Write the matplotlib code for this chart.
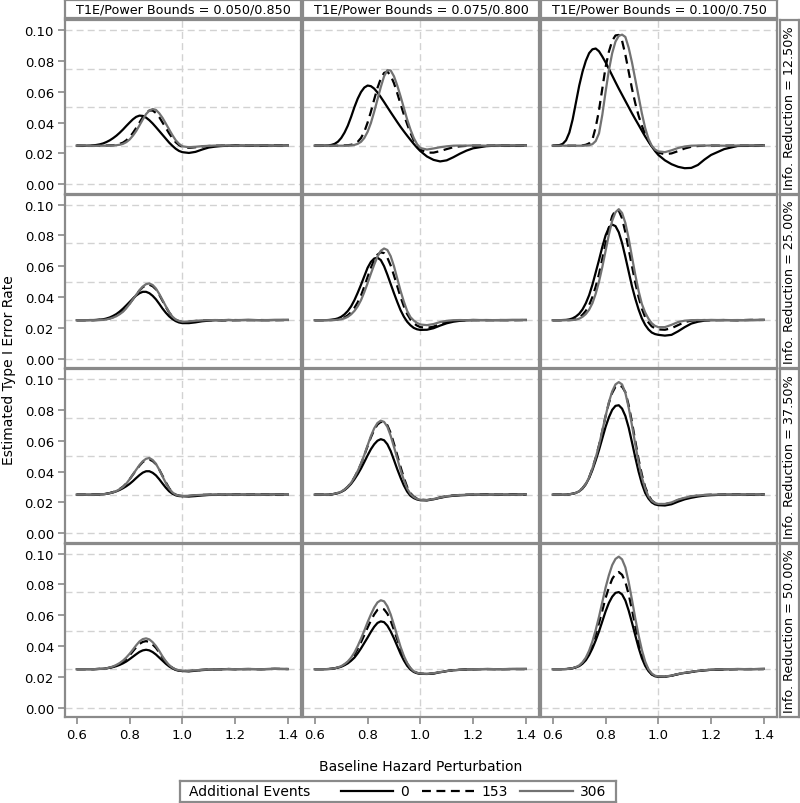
import matplotlib.pyplot as plt
from matplotlib.lines import Line2D

# x values (baseline hazard perturbation), finer where the curves bend
perturbation = [0.600, 0.625, 0.6375, 0.650, 0.6625, 0.675, 0.6875, 0.700, 0.7125, 0.725,
                0.7375, 0.750, 0.7625, 0.775, 0.7875, 0.800, 0.8125, 0.825, 0.8375, 0.850,
                0.8625, 0.875, 0.8875, 0.900, 0.9125, 0.925, 0.9375, 0.950, 0.9625, 0.975,
                0.9875, 1.000, 1.025, 1.050, 1.075, 1.100, 1.125, 1.150, 1.175, 1.200,
                1.250, 1.300, 1.350, 1.400]

bound_labels = ["T1E/Power Bounds = 0.050/0.850",
                "T1E/Power Bounds = 0.075/0.800",
                "T1E/Power Bounds = 0.100/0.750"]
reduction_labels = ["Info. Reduction = 12.50%", "Info. Reduction = 25.00%",
                    "Info. Reduction = 37.50%", "Info. Reduction = 50.00%"]
event_labels = ["0", "153", "306"]

# pRC_eN : row R (info reduction), column C (bounds), N additional events
p11_e0 = [.0250, .0249, .0250, .0251, .0252, .0255, .0259, .0265, .0274, .0285, .0299, .0315, .0334, .0355, .0378, .0400, .0421, .0437, .0445, .0443, .0432, .0415, .0394, .0370, .0345, .0320, .0295, .0270, .0249, .0230, .0216, .0208, .0203, .0210, .0225, .0238, .0244, .0248, .0250, .0251, .0250, .0252, .0250, .0252]
p11_e153 = [.0250, .0250, .0249, .0249, .0250, .0250, .0250, .0251, .0251, .0252, .0253, .0256, .0262, .0270, .0285, .0305, .0333, .0365, .0400, .0435, .0462, .0478, .0478, .0462, .0435, .0400, .0365, .0330, .0298, .0272, .0254, .0242, .0236, .0240, .0245, .0248, .0250, .0251, .0249, .0251, .0250, .0249, .0251, .0250]
p11_e306 = [.0250, .0251, .0250, .0250, .0249, .0249, .0250, .0250, .0250, .0251, .0252, .0253, .0256, .0262, .0273, .0290, .0315, .0345, .0382, .0420, .0455, .0478, .0488, .0482, .0460, .0430, .0393, .0355, .0318, .0285, .0262, .0246, .0240, .0243, .0247, .0249, .0251, .0250, .0252, .0250, .0251, .0252, .0250, .0251]

p12_e0 = [.0250, .0250, .0251, .0252, .0255, .0262, .0276, .0300, .0335, .0380, .0437, .0500, .0555, .0598, .0627, .0640, .0636, .0620, .0595, .0565, .0533, .0500, .0467, .0435, .0403, .0372, .0343, .0315, .0288, .0262, .0237, .0215, .0180, .0158, .0148, .0155, .0175, .0198, .0218, .0233, .0247, .0251, .0250, .0252]
p12_e153 = [.0250, .0250, .0249, .0249, .0250, .0250, .0250, .0251, .0252, .0253, .0256, .0262, .0275, .0300, .0340, .0400, .0470, .0550, .0625, .0685, .0722, .0730, .0705, .0655, .0590, .0520, .0452, .0390, .0333, .0285, .0250, .0225, .0205, .0205, .0215, .0228, .0240, .0246, .0249, .0250, .0251, .0250, .0251, .0250]
p12_e306 = [.0250, .0250, .0251, .0251, .0250, .0250, .0250, .0250, .0250, .0251, .0252, .0255, .0262, .0275, .0300, .0340, .0397, .0470, .0550, .0630, .0700, .0740, .0738, .0700, .0640, .0570, .0495, .0420, .0355, .0300, .0260, .0235, .0225, .0232, .0240, .0246, .0250, .0251, .0250, .0252, .0250, .0251, .0252, .0251]

p13_e0 = [.0250, .0254, .0262, .0285, .0335, .0420, .0530, .0640, .0730, .0800, .0850, .0875, .0880, .0862, .0828, .0790, .0748, .0705, .0662, .0620, .0580, .0540, .0500, .0460, .0422, .0385, .0347, .0310, .0277, .0245, .0215, .0190, .0155, .0130, .0113, .0104, .0106, .0125, .0160, .0190, .0228, .0248, .0250, .0252]
p13_e153 = [.0250, .0250, .0250, .0250, .0250, .0250, .0250, .0251, .0252, .0256, .0265, .0290, .0370, .0480, .0620, .0760, .0860, .0930, .0965, .0968, .0930, .0840, .0730, .0620, .0525, .0445, .0380, .0325, .0280, .0245, .0220, .0205, .0195, .0200, .0215, .0232, .0243, .0248, .0250, .0251, .0250, .0251, .0250, .0252]
p13_e306 = [.0250, .0250, .0250, .0250, .0250, .0250, .0250, .0250, .0250, .0251, .0253, .0260, .0280, .0330, .0450, .0600, .0740, .0850, .0925, .0962, .0970, .0955, .0885, .0790, .0680, .0570, .0460, .0365, .0295, .0250, .0225, .0213, .0208, .0220, .0235, .0245, .0250, .0251, .0250, .0252, .0250, .0251, .0252, .0251]

p21_e0 = [.0250, .0250, .0250, .0251, .0251, .0252, .0254, .0256, .0261, .0268, .0278, .0290, .0306, .0325, .0346, .0368, .0390, .0410, .0425, .0434, .0434, .0425, .0408, .0385, .0356, .0325, .0298, .0275, .0257, .0244, .0235, .0231, .0231, .0236, .0243, .0247, .0250, .0249, .0251, .0250, .0252, .0250, .0251, .0252]
p21_e153 = [.0250, .0250, .0250, .0250, .0250, .0251, .0252, .0253, .0257, .0262, .0270, .0280, .0294, .0310, .0332, .0358, .0386, .0415, .0442, .0464, .0477, .0480, .0470, .0450, .0415, .0375, .0336, .0300, .0272, .0253, .0243, .0238, .0240, .0245, .0248, .0250, .0251, .0250, .0249, .0251, .0250, .0251, .0250, .0251]
p21_e306 = [.0250, .0250, .0250, .0250, .0250, .0250, .0251, .0252, .0255, .0260, .0267, .0276, .0289, .0305, .0328, .0355, .0385, .0415, .0444, .0468, .0484, .0488, .0478, .0455, .0420, .0380, .0340, .0302, .0273, .0254, .0245, .0240, .0242, .0246, .0249, .0250, .0251, .0250, .0252, .0250, .0251, .0250, .0252, .0251]

p22_e0 = [.0250, .0250, .0250, .0251, .0253, .0256, .0262, .0272, .0288, .0310, .0340, .0380, .0428, .0480, .0535, .0590, .0628, .0650, .0655, .0640, .0600, .0545, .0485, .0425, .0368, .0315, .0273, .0240, .0217, .0200, .0191, .0187, .0188, .0198, .0215, .0230, .0240, .0246, .0249, .0250, .0251, .0250, .0251, .0252]
p22_e153 = [.0250, .0250, .0250, .0250, .0251, .0252, .0255, .0260, .0268, .0282, .0302, .0330, .0366, .0410, .0468, .0530, .0590, .0640, .0675, .0690, .0685, .0655, .0605, .0540, .0470, .0400, .0340, .0290, .0255, .0230, .0215, .0205, .0200, .0208, .0225, .0238, .0245, .0249, .0250, .0251, .0250, .0251, .0250, .0251]
p22_e306 = [.0250, .0250, .0250, .0250, .0250, .0251, .0253, .0256, .0262, .0272, .0288, .0310, .0340, .0380, .0432, .0490, .0552, .0610, .0662, .0700, .0715, .0705, .0665, .0600, .0520, .0440, .0370, .0310, .0270, .0248, .0232, .0222, .0218, .0225, .0238, .0246, .0250, .0251, .0250, .0252, .0250, .0251, .0252, .0250]

p23_e0 = [.0250, .0250, .0251, .0252, .0255, .0262, .0274, .0292, .0320, .0360, .0412, .0480, .0560, .0640, .0725, .0800, .0850, .0870, .0860, .0820, .0750, .0660, .0565, .0470, .0390, .0320, .0262, .0220, .0190, .0170, .0160, .0155, .0150, .0155, .0178, .0205, .0228, .0240, .0247, .0250, .0251, .0250, .0251, .0252]
p23_e153 = [.0250, .0250, .0250, .0250, .0251, .0252, .0257, .0268, .0285, .0310, .0348, .0400, .0468, .0550, .0648, .0750, .0850, .0925, .0962, .0960, .0910, .0820, .0710, .0600, .0495, .0400, .0325, .0270, .0235, .0210, .0197, .0190, .0188, .0198, .0218, .0238, .0247, .0250, .0251, .0250, .0251, .0250, .0252, .0251]
p23_e306 = [.0250, .0250, .0250, .0250, .0250, .0251, .0254, .0260, .0272, .0290, .0318, .0360, .0422, .0500, .0595, .0700, .0805, .0895, .0950, .0970, .0945, .0880, .0780, .0660, .0545, .0440, .0355, .0300, .0260, .0230, .0213, .0205, .0205, .0220, .0238, .0247, .0250, .0251, .0250, .0252, .0250, .0251, .0250, .0252]

p31_e0 = [.0250, .0250, .0250, .0250, .0251, .0251, .0252, .0253, .0256, .0260, .0265, .0272, .0281, .0292, .0305, .0320, .0338, .0358, .0377, .0393, .0402, .0402, .0392, .0375, .0350, .0322, .0295, .0272, .0256, .0246, .0241, .0240, .0238, .0241, .0245, .0248, .0250, .0249, .0251, .0250, .0251, .0250, .0252, .0251]
p31_e153 = [.0250, .0250, .0250, .0250, .0250, .0251, .0252, .0253, .0256, .0261, .0267, .0275, .0287, .0302, .0323, .0350, .0380, .0410, .0438, .0462, .0475, .0478, .0468, .0448, .0413, .0372, .0330, .0292, .0266, .0250, .0244, .0241, .0242, .0246, .0249, .0250, .0251, .0250, .0249, .0251, .0250, .0251, .0250, .0251]
p31_e306 = [.0250, .0250, .0250, .0250, .0250, .0251, .0252, .0253, .0256, .0260, .0266, .0274, .0286, .0300, .0322, .0350, .0381, .0412, .0442, .0467, .0483, .0488, .0475, .0450, .0412, .0368, .0325, .0290, .0265, .0250, .0244, .0242, .0243, .0247, .0249, .0250, .0251, .0250, .0252, .0250, .0251, .0250, .0252, .0251]

p32_e0 = [.0250, .0250, .0250, .0251, .0252, .0255, .0260, .0268, .0280, .0298, .0321, .0350, .0383, .0420, .0462, .0505, .0545, .0577, .0600, .0610, .0603, .0577, .0533, .0475, .0415, .0360, .0310, .0270, .0243, .0228, .0219, .0214, .0213, .0220, .0230, .0238, .0243, .0246, .0248, .0250, .0251, .0250, .0251, .0252]
p32_e153 = [.0250, .0250, .0250, .0251, .0252, .0256, .0262, .0270, .0283, .0302, .0328, .0362, .0403, .0450, .0505, .0565, .0622, .0670, .0705, .0722, .0720, .0700, .0650, .0580, .0505, .0430, .0360, .0300, .0260, .0238, .0225, .0218, .0215, .0222, .0232, .0240, .0245, .0248, .0250, .0250, .0251, .0250, .0251, .0250]
p32_e306 = [.0250, .0250, .0250, .0251, .0252, .0256, .0262, .0270, .0283, .0302, .0328, .0362, .0404, .0452, .0508, .0570, .0630, .0680, .0715, .0730, .0722, .0690, .0632, .0560, .0485, .0410, .0345, .0290, .0255, .0235, .0223, .0217, .0215, .0222, .0232, .0240, .0245, .0248, .0250, .0251, .0250, .0251, .0250, .0252]

p33_e0 = [.0250, .0250, .0250, .0251, .0253, .0256, .0262, .0272, .0290, .0318, .0358, .0410, .0472, .0540, .0615, .0690, .0752, .0800, .0826, .0830, .0808, .0760, .0685, .0590, .0492, .0400, .0322, .0262, .0225, .0200, .0187, .0182, .0180, .0188, .0205, .0220, .0230, .0238, .0244, .0247, .0250, .0251, .0250, .0252]
p33_e153 = [.0250, .0250, .0250, .0251, .0253, .0256, .0262, .0272, .0292, .0320, .0362, .0420, .0490, .0570, .0662, .0760, .0845, .0910, .0950, .0960, .0950, .0915, .0830, .0720, .0598, .0480, .0380, .0300, .0248, .0212, .0196, .0190, .0188, .0198, .0215, .0228, .0238, .0244, .0248, .0250, .0251, .0250, .0251, .0250]
p33_e306 = [.0250, .0250, .0250, .0251, .0253, .0256, .0262, .0272, .0292, .0320, .0362, .0420, .0490, .0570, .0665, .0760, .0850, .0920, .0965, .0980, .0965, .0910, .0815, .0700, .0578, .0460, .0362, .0290, .0240, .0210, .0196, .0190, .0190, .0200, .0218, .0230, .0240, .0245, .0248, .0250, .0251, .0250, .0252, .0251]

p41_e0 = [.0250, .0250, .0250, .0250, .0250, .0251, .0252, .0253, .0256, .0259, .0264, .0270, .0278, .0288, .0300, .0315, .0331, .0347, .0362, .0372, .0376, .0372, .0361, .0345, .0325, .0305, .0285, .0268, .0255, .0245, .0240, .0238, .0236, .0240, .0244, .0247, .0249, .0250, .0251, .0250, .0251, .0250, .0252, .0251]
p41_e153 = [.0250, .0250, .0250, .0250, .0250, .0251, .0252, .0253, .0256, .0260, .0266, .0275, .0286, .0300, .0318, .0340, .0366, .0392, .0414, .0427, .0432, .0426, .0410, .0388, .0358, .0325, .0297, .0275, .0259, .0247, .0242, .0240, .0238, .0242, .0246, .0248, .0250, .0249, .0251, .0250, .0251, .0250, .0252, .0251]
p41_e306 = [.0250, .0250, .0250, .0250, .0250, .0251, .0252, .0253, .0256, .0261, .0268, .0278, .0290, .0306, .0326, .0350, .0377, .0405, .0430, .0445, .0450, .0443, .0425, .0400, .0368, .0332, .0301, .0277, .0260, .0248, .0243, .0240, .0239, .0243, .0246, .0248, .0250, .0249, .0251, .0250, .0251, .0250, .0252, .0251]

p42_e0 = [.0250, .0250, .0250, .0251, .0252, .0255, .0260, .0266, .0276, .0288, .0305, .0325, .0353, .0385, .0420, .0455, .0492, .0525, .0550, .0560, .0555, .0532, .0495, .0450, .0400, .0350, .0307, .0272, .0248, .0232, .0224, .0220, .0219, .0222, .0230, .0238, .0243, .0246, .0248, .0249, .0251, .0250, .0251, .0252]
p42_e153 = [.0250, .0250, .0250, .0251, .0253, .0256, .0261, .0268, .0280, .0295, .0316, .0345, .0382, .0425, .0472, .0520, .0565, .0605, .0635, .0645, .0638, .0610, .0563, .0505, .0442, .0380, .0327, .0285, .0255, .0235, .0226, .0221, .0219, .0223, .0230, .0238, .0243, .0246, .0248, .0250, .0251, .0250, .0251, .0250]
p42_e306 = [.0250, .0250, .0250, .0251, .0253, .0256, .0262, .0270, .0283, .0300, .0325, .0358, .0400, .0448, .0500, .0555, .0605, .0650, .0683, .0697, .0690, .0658, .0605, .0537, .0465, .0395, .0336, .0290, .0258, .0237, .0227, .0222, .0220, .0224, .0231, .0238, .0243, .0246, .0248, .0250, .0251, .0250, .0252, .0251]

p43_e0 = [.0250, .0250, .0250, .0251, .0253, .0256, .0262, .0270, .0286, .0308, .0342, .0385, .0437, .0495, .0560, .0625, .0680, .0720, .0745, .0750, .0735, .0695, .0630, .0552, .0470, .0390, .0322, .0272, .0238, .0215, .0204, .0200, .0200, .0208, .0218, .0226, .0232, .0238, .0243, .0246, .0249, .0251, .0250, .0252]
p43_e153 = [.0250, .0250, .0250, .0251, .0253, .0256, .0263, .0272, .0290, .0318, .0358, .0410, .0475, .0550, .0630, .0712, .0780, .0835, .0868, .0880, .0862, .0815, .0735, .0635, .0530, .0430, .0350, .0288, .0245, .0218, .0206, .0202, .0201, .0208, .0218, .0226, .0232, .0238, .0243, .0246, .0249, .0250, .0251, .0250]
p43_e306 = [.0250, .0250, .0250, .0251, .0253, .0257, .0264, .0275, .0295, .0325, .0370, .0430, .0505, .0590, .0685, .0780, .0860, .0925, .0965, .0980, .0962, .0910, .0815, .0700, .0580, .0470, .0375, .0300, .0250, .0222, .0208, .0203, .0202, .0209, .0219, .0227, .0233, .0239, .0244, .0247, .0250, .0251, .0250, .0252]

panels = [
    [(p11_e0, p11_e153, p11_e306), (p12_e0, p12_e153, p12_e306), (p13_e0, p13_e153, p13_e306)],
    [(p21_e0, p21_e153, p21_e306), (p22_e0, p22_e153, p22_e306), (p23_e0, p23_e153, p23_e306)],
    [(p31_e0, p31_e153, p31_e306), (p32_e0, p32_e153, p32_e306), (p33_e0, p33_e153, p33_e306)],
    [(p41_e0, p41_e153, p41_e306), (p42_e0, p42_e153, p42_e306), (p43_e0, p43_e153, p43_e306)],
]

W, H = 800, 804
BORDER = "#8a8a8a"
GRID = "#d2d2d2"
line_styles = [dict(color="black", lw=1.6, ls="-"),
               dict(color="black", lw=1.6, ls=(0, (4, 2.5))),
               dict(color="#727272", lw=1.6, ls="-")]

plt.rcParams["font.family"] = "DejaVu Sans"
fig = plt.figure(figsize=(W / 100, H / 100), dpi=100)


def px_box(x, y, w, h):
    # pixel box measured from top-left -> figure fraction
    return [x / W, 1 - (y + h) / H, w / W, h / H]


def style_box(ax):
    for s in ax.spines.values():
        s.set_color(BORDER)
        s.set_linewidth(1.6)


col_x = [65, 303, 541]
col_w = 236
row_y = [21, 195.5, 370, 544.5]
row_h = 173.5

for r in range(4):
    for c in range(3):
        ax = fig.add_axes(px_box(col_x[c], row_y[r], col_w, row_h))
        style_box(ax)
        ax.xaxis.remove_overlapping_locs = False
        ax.yaxis.remove_overlapping_locs = False
        ax.set_xlim(0.555, 1.45)
        ax.set_ylim(-0.006, 0.1065)
        ax.set_yticks([0.0, 0.025, 0.05, 0.075, 0.1], minor=True)
        ax.set_xticks([1.0], minor=True)
        ax.grid(which="minor", color=GRID, ls=(0, (5, 3)), lw=1.0)
        ax.set_axisbelow(True)
        ax.set_xticks([0.6, 0.8, 1.0, 1.2, 1.4])
        ax.set_yticks([0.0, 0.02, 0.04, 0.06, 0.08, 0.10])
        ax.tick_params(which="minor", length=0)
        ax.tick_params(which="major", color=BORDER, width=1.2, length=5,
                       labelsize=9.5, pad=3)
        ax.tick_params(left=(c == 0), labelleft=(c == 0),
                       bottom=(r == 3), labelbottom=(r == 3))
        ax.yaxis.set_major_formatter(lambda v, p: f"{v:.2f}")
        ax.xaxis.set_major_formatter(lambda v, p: f"{v:.1f}")
        for vals, st in zip(panels[r][c], line_styles):
            ax.plot(perturbation, vals, solid_joinstyle="round", **st)

# column header strips
for c in range(3):
    sax = fig.add_axes(px_box(col_x[c], 1, col_w, 18))
    style_box(sax)
    sax.set_xticks([])
    sax.set_yticks([])
    sax.text(0.5, 0.5, bound_labels[c], ha="center", va="center", fontsize=9.2,
             transform=sax.transAxes)

# row strips on the right
for r in range(4):
    rax = fig.add_axes(px_box(780, row_y[r], 19, row_h))
    style_box(rax)
    rax.set_xticks([])
    rax.set_yticks([])
    rax.text(0.5, 0.5, reduction_labels[r], ha="center", va="center", fontsize=9.2,
             rotation=90, transform=rax.transAxes)

fig.text(9 / W, 1 - 370 / H, "Estimated Type I Error Rate", rotation=90,
         ha="center", va="center", fontsize=10)
fig.text(421 / W, 1 - 767 / H, "Baseline Hazard Perturbation",
         ha="center", va="center", fontsize=10)

# legend box
lax = fig.add_axes(px_box(180, 782, 436, 21))
style_box(lax)
lax.set_xticks([])
lax.set_yticks([])
lax.text(0.02, 0.5, "Additional Events", ha="left", va="center", fontsize=10,
         transform=lax.transAxes)
handles = [Line2D([], [], **st) for st in line_styles]
lax.legend(handles, event_labels, loc="center right", ncol=3, frameon=False,
           fontsize=10, handlelength=3.8, columnspacing=0.9, handletextpad=0.5,
           borderaxespad=0.7, borderpad=0)

plt.savefig("out.png", dpi=100)
